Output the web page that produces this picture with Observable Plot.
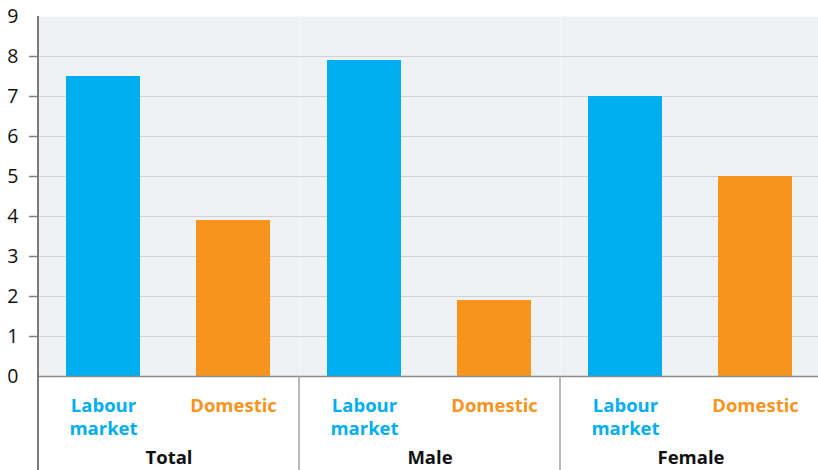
<!DOCTYPE html>
<html>
<head>
<meta charset="utf-8">
<script src="https://cdn.jsdelivr.net/npm/d3@7"></script>
<script src="https://cdn.jsdelivr.net/npm/@observablehq/plot@0.6"></script>
<style>
  html, body { margin: 0; padding: 0; background: #ffffff; overflow: hidden; }
  #chart svg { display: block; }
</style>
</head>
<body>
<div id="chart"></div>
<script>
const groups = ["Total", "Male", "Female"];
const categories = ["Labour market", "Domestic"];
const labourValues = [7.5, 7.9, 7.0];
const domesticValues = [3.9, 1.9, 5.0];
const yTickLabels = [0, 1, 2, 3, 4, 5, 6, 7, 8, 9];
const yTickMarks = [1, 2, 3, 4, 5, 6, 7, 8];

const blue = "#00aeef";
const orange = "#f7941d";

const data = [];
groups.forEach((g, i) => {
  data.push({group: g, category: categories[0], value: labourValues[i]});
  data.push({group: g, category: categories[1], value: domesticValues[i]});
});

const font = "'Open Sans', sans-serif";

const plot = Plot.plot({
  width: 818,
  height: 470,
  marginLeft: 37,
  marginRight: -3,
  marginTop: 16,
  marginBottom: 94,
  style: {fontFamily: font, background: "#ffffff", overflow: "visible"},
  fx: {domain: groups, padding: 0, axis: null},
  x: {domain: categories, paddingInner: 0.427, paddingOuter: 0.214, axis: null},
  y: {domain: [0, 9], axis: null},
  color: {domain: categories, range: [blue, orange]},
  marks: [
    Plot.frame({fill: "#f0f1f3", stroke: null}),
    Plot.gridY(yTickMarks, {stroke: "#d0d1d4", strokeOpacity: 1, strokeWidth: 1.2}),
    Plot.barY(data, {fx: "group", x: "category", y: "value", fill: "category"}),
    Plot.axisY(yTickMarks, {tickSize: 9, tickFormat: () => "", stroke: "#808080", strokeWidth: 1.5, label: null}),
    Plot.axisY(yTickLabels, {tickSize: 0, tickPadding: 20, fontSize: 19.5, fill: "#111111", label: null}),
    Plot.ruleY([0], {stroke: "#8c8c8c", strokeWidth: 1.5}),
    Plot.text(data, {
      fx: "group", x: "category",
      text: d => d.category.replace(" ", "\n"),
      frameAnchor: "bottom", lineAnchor: "top", dy: 19,
      lineHeight: 1.25,
      fill: "category", fontSize: 18.5, fontWeight: 700
    }),
    Plot.text(groups, {
      fx: d => d, text: d => d,
      frameAnchor: "bottom", lineAnchor: "top", dy: 74,
      fill: "#111111", fontSize: 18.5, fontWeight: 700
    })
  ]
});

// group separators below the axis, drawn from the fx and y scales
const fx = plot.scale("fx");
const y = plot.scale("y");
const svg = d3.select(plot);
const y0 = y.apply(0);
const yTop = y.apply(9);
groups.forEach((g, i) => {
  const xs = fx.apply(g);
  svg.append("line")
    .attr("x1", xs).attr("x2", xs)
    .attr("y1", i === 0 ? yTop : y0)
    .attr("y2", 470)
    .attr("stroke", i === 0 ? "#7a7a7a" : "#a0a0a0")
    .attr("stroke-width", i === 0 ? 2 : 1.5);
});

document.getElementById("chart").appendChild(plot);
</script>
</body>
</html>
